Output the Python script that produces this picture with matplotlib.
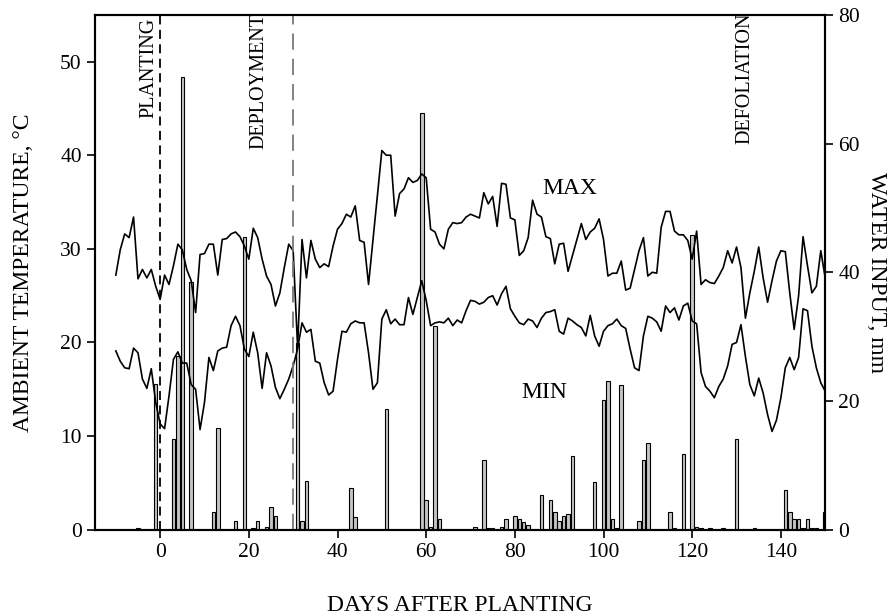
import numpy as np
import matplotlib
matplotlib.use('Agg')
import matplotlib.pyplot as plt

plt.rcParams['font.family'] = ['Liberation Serif', 'DejaVu Serif']

# Daily ambient temperature, days -10 .. 150 after planting
days = np.arange(-10, 151)
t_max = [
    27.2, 29.9, 31.6, 31.2, 33.4, 26.8, 27.8, 26.9, 27.8, 26.0,   # -10..-1
    24.6, 27.2, 26.2, 28.2, 30.5, 29.9, 27.8, 26.6, 23.2, 29.4,   # 0..9
    29.5, 30.5, 30.5, 27.2, 31.0, 31.1, 31.6, 31.8, 31.3, 30.3,   # 10..19
    28.9, 32.2, 31.2, 28.9, 27.1, 26.2, 23.9, 25.3, 28.0, 30.5,   # 20..29
    29.8, 19.5, 31.0, 26.9, 30.9, 28.9, 28.0, 28.4, 28.1, 30.3,   # 30..39
    32.1, 32.7, 33.7, 33.4, 34.6, 30.9, 30.7, 26.2, 30.9, 35.7,   # 40..49
    40.5, 40.0, 40.0, 33.5, 35.9, 36.4, 37.6, 37.1, 37.3, 38.0,   # 50..59
    37.6, 32.1, 31.8, 30.5, 30.0, 32.1, 32.8, 32.7, 32.8, 33.4,   # 60..69
    33.7, 33.5, 33.3, 36.0, 34.8, 35.6, 32.4, 37.0, 36.9, 33.3,   # 70..79
    33.1, 29.3, 29.8, 31.2, 35.2, 33.7, 33.4, 31.3, 31.1, 28.4,   # 80..89
    30.5, 30.6, 27.6, 29.3, 31.0, 32.7, 31.0, 31.8, 32.2, 33.2,   # 90..99
    31.0, 27.1, 27.4, 27.4, 28.7, 25.6, 25.8, 27.8, 29.8, 31.2,   # 100..109
    27.1, 27.5, 27.4, 32.3, 34.0, 34.0, 31.9, 31.5, 31.5, 30.9,   # 110..119
    28.9, 31.9, 26.2, 26.7, 26.4, 26.3, 27.1, 28.0, 29.8, 28.5,   # 120..129
    30.2, 28.0, 22.6, 25.3, 27.6, 30.2, 26.9, 24.3, 26.6, 28.7,   # 130..139
    29.8, 29.7, 25.3, 21.4, 25.0, 31.3, 28.2, 25.3, 26.0, 29.8,   # 140..149
    26.9,                                                         # 150
]
t_min = [
    19.1, 18.0, 17.3, 17.2, 19.4, 18.9, 16.1, 15.1, 17.2, 13.6,
    11.3, 10.8, 14.3, 18.2, 19.0, 17.8, 17.8, 15.5, 15.0, 10.7,
    13.6, 18.4, 17.0, 19.1, 19.4, 19.5, 21.8, 22.8, 21.8, 19.3,
    18.5, 21.1, 18.9, 15.1, 18.9, 17.5, 15.2, 14.0, 15.0, 16.1,
    17.5, 19.3, 22.1, 21.1, 21.4, 18.0, 17.8, 15.7, 14.4, 14.8,
    18.2, 21.2, 21.1, 22.0, 22.3, 22.1, 22.1, 18.9, 15.0, 15.7,
    22.5, 23.5, 22.0, 22.5, 21.9, 21.9, 24.8, 23.0, 24.8, 26.6,
    24.5, 21.8, 22.1, 22.2, 22.1, 22.6, 21.8, 22.4, 22.1, 23.4,
    24.5, 24.4, 24.1, 24.3, 24.8, 25.0, 24.0, 25.2, 26.0, 23.6,
    22.8, 22.1, 21.9, 22.5, 22.3, 21.6, 22.6, 23.2, 23.3, 23.5,
    21.2, 20.9, 22.6, 22.3, 21.9, 21.6, 20.7, 22.9, 20.7, 19.6,
    21.2, 21.8, 22.0, 22.5, 21.8, 21.5, 19.3, 17.3, 17.0, 20.7,
    22.8, 22.6, 22.2, 21.2, 23.9, 23.2, 23.7, 22.4, 23.9, 24.2,
    22.3, 22.0, 16.8, 15.3, 14.8, 14.1, 15.3, 16.1, 17.5, 19.8,
    20.0, 21.9, 18.5, 15.5, 14.3, 16.2, 14.6, 12.3, 10.5, 11.7,
    14.1, 17.3, 18.4, 17.1, 18.4, 23.6, 23.4, 19.6, 17.3, 15.7,
    14.8,
]

# Water input (rain + irrigation), mm
rain_days = [-5, -1, 3, 4, 5, 7, 12, 13, 17, 19, 21, 22, 24, 25, 26,
             31, 32, 33, 43, 44, 51, 59, 60, 61, 62, 63, 71, 73, 74, 75,
             77, 78, 80, 81, 82, 83, 86, 88, 89, 90, 91, 92, 93, 98, 100,
             101, 102, 103, 104, 108, 109, 110, 115, 116, 118, 120, 121,
             122, 124, 127, 130, 134, 141, 142, 143, 144, 145, 146, 147,
             148, 150]
rain_mm = [0.3, 22.6, 14.1, 27.0, 70.3, 38.5, 2.7, 15.8, 1.3, 45.5, 0.3,
           1.3, 0.5, 3.6, 2.1, 29.0, 1.3, 7.6, 6.5, 2.0, 18.7, 64.8, 4.7,
           0.5, 31.7, 1.7, 0.4, 10.8, 0.3, 0.3, 0.5, 1.7, 2.1, 1.7, 1.2,
           0.8, 5.4, 4.7, 2.8, 1.3, 2.1, 2.4, 11.5, 7.4, 20.1, 23.1, 1.7,
           0.3, 22.5, 1.3, 10.8, 13.5, 2.8, 0.3, 11.8, 45.8, 0.4, 0.3, 0.3,
           0.3, 14.1, 0.3, 6.2, 2.7, 1.7, 1.7, 0.3, 1.7, 0.3, 0.3, 2.8]

events = {'PLANTING': 0, 'DEPLOYMENT': 30, 'DEFOLIATION': 131}

fig = plt.figure(figsize=(8.96, 6.16), dpi=100)
ax = fig.add_axes([0.106, 0.140, 0.815, 0.836])
ax2 = ax.twinx()

# bars on the right axis, temperature lines drawn over them
ax2.bar(rain_days, rain_mm, width=0.8, color='#c4c4c4', edgecolor='black',
        linewidth=0.8)
ax.set_zorder(ax2.get_zorder() + 1)
ax.patch.set_visible(False)

ax.plot(days, t_max, color='black', lw=1.2)
ax.plot(days, t_min, color='black', lw=1.2)

ax.axvline(events['PLANTING'], color='black', lw=1.3, ls=(0, (5, 3)))
ax.axvline(events['DEPLOYMENT'], color='#777777', lw=1.3, ls=(0, (9, 5)))

txt = dict(rotation=90, ha='center', va='top', fontsize=14.5)
ax.text(-2.6, 54.7, 'PLANTING', **txt)
ax.text(22.3, 55.2, 'DEPLOYMENT', **txt)
ax.text(131.9, 55.2, 'DEFOLIATION', **txt)

ax.text(92.3, 36.4, 'MAX', ha='center', va='center', fontsize=17)
ax.text(86.7, 14.7, 'MIN', ha='center', va='center', fontsize=17)

ax.set_xlim(-14.7, 150)
ax.set_ylim(0, 55)
ax2.set_ylim(0, 80)
ax.set_xticks(range(0, 141, 20))
ax.set_yticks(range(0, 51, 10))
ax2.set_yticks(range(0, 81, 20))

for a in (ax, ax2):
    a.tick_params(direction='out', length=6, width=1.2, labelsize=15.5)
    for s in a.spines.values():
        s.set_linewidth(1.5)

ax.set_xlabel('DAYS AFTER PLANTING', fontsize=17, labelpad=24)
ax.set_ylabel('AMBIENT TEMPERATURE, \u00b0C', fontsize=17, labelpad=19)
ax2.set_ylabel('WATER INPUT, mm', fontsize=17, rotation=270, labelpad=19)

fig.savefig('out.png', dpi=100)
